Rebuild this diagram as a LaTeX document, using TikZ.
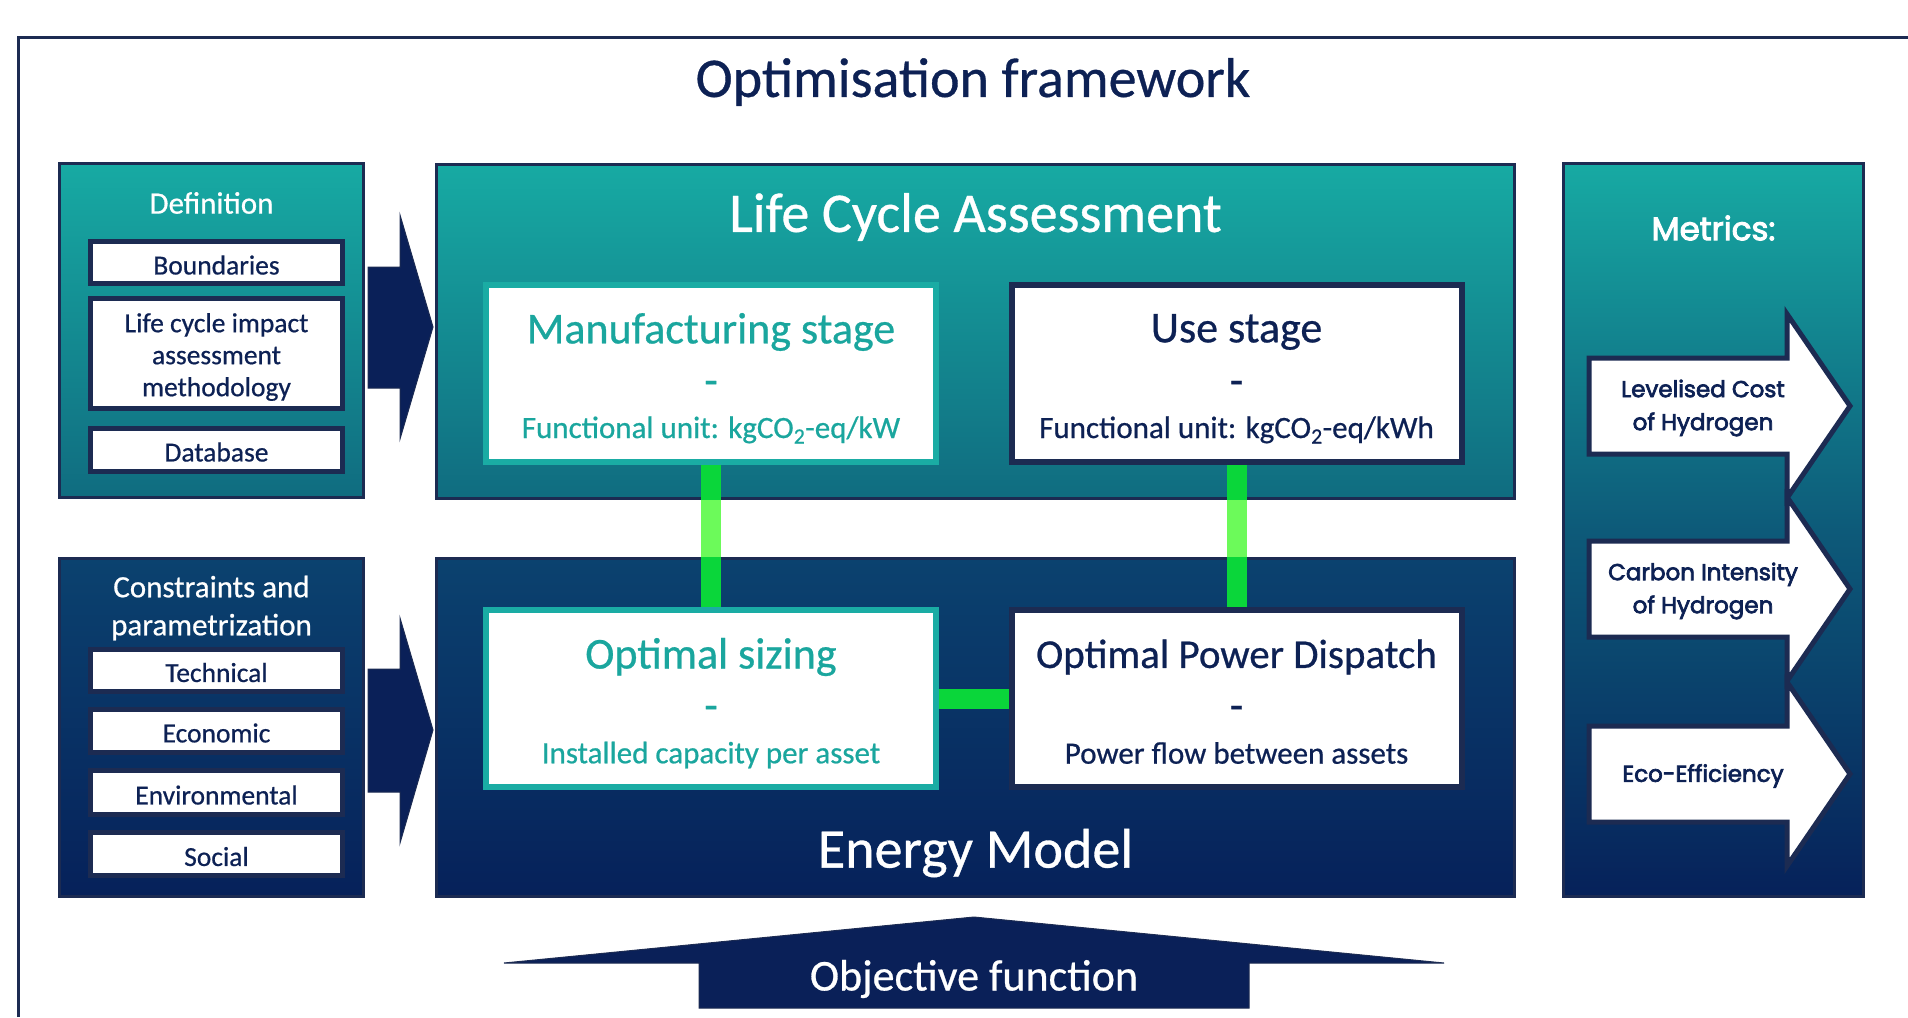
\documentclass[tikz,border=0pt]{standalone}
\usepackage{fontspec}
\setmainfont{Carlito}[FakeBold=0.6]
\newfontfamily\metricfont{Poppins}[FakeBold=3]

\definecolor{navy}{RGB}{13,33,84}
\definecolor{edge}{RGB}{28,43,82}
\definecolor{tealtxt}{RGB}{26,166,158}
\definecolor{tealline}{RGB}{26,172,164}
\definecolor{gA}{RGB}{23,170,163}
\definecolor{gB}{RGB}{16,108,128}
\definecolor{gC}{RGB}{11,66,111}
\definecolor{gD}{RGB}{6,33,90}
\definecolor{gM}{RGB}{13,90,121}
\definecolor{arrowfill}{RGB}{10,32,88}
\definecolor{bardark}{RGB}{10,214,58}
\definecolor{barlight}{RGB}{108,250,90}

\newcommand\fsz[2]{\fontsize{#1}{#2}\selectfont}

\begin{document}
\begin{tikzpicture}[x=1pt,y=-1pt,
  bigbox/.style={draw=edge, line width=3pt, inner sep=0pt, outer sep=0pt},
  tealpanel/.style={bigbox, top color=gA, bottom color=gB},
  bluepanel/.style={bigbox, top color=gC, bottom color=gD},
  item/.style={draw=edge, fill=white, line width=5pt, inner sep=0pt, outer sep=0pt,
    minimum width=252pt, text=navy, align=center, font=\fsz{27.5}{32}},
  itemtxt/.style={text=navy, align=center, inner sep=0pt, font=\fsz{27.5}{32}},
  stagebox/.style={fill=white, line width=6pt, inner sep=0pt, outer sep=0pt,
    minimum width=450pt, minimum height=177pt},
  tealstage/.style={stagebox, draw=tealline},
  navystage/.style={stagebox, draw=edge},
  greenbar/.style={line width=20pt, draw=bardark},
  blockarrow/.style={fill=arrowfill, draw=edge, line width=1pt, line join=miter},
  metricarrow/.style={fill=white, draw=edge, line width=5pt, line join=miter},
  whitetxt/.style={text=white, inner sep=0pt},
  hyphenmark/.style={inner sep=0pt, font=\fsz{44}{48}},
  metrictxt/.style={text=navy, align=center, inner sep=0pt,
    font=\metricfont\fsz{23}{33}},
]
\useasboundingbox (0,0) rectangle (1908,1017);

% outer frame, open towards the right and the bottom
\draw[edge, line width=3pt] (18,1017) -- (18,37) -- (1908,37);
\node[text=navy, font=\fsz{56}{60}] (title) at (973,82) {Optimisation framework};

% main panels
\node[tealpanel, minimum width=304pt, minimum height=334pt] (def) at (211.5,330.5) {};
\node[tealpanel, minimum width=1078pt, minimum height=334pt] (lca) at (975.5,331.5) {};
\node[bluepanel, minimum width=304pt, minimum height=338pt] (cons) at (211.5,727.5) {};
\node[bluepanel, minimum width=1078pt, minimum height=338pt] (energy) at (975.5,727.5) {};
\node[bigbox, top color=gA, bottom color=gD, middle color=gM,
      minimum width=300pt, minimum height=733pt] (metrics) at (1713.5,530) {};

% block arrows feeding the two models
\draw[blockarrow] (368,267) -- (400,267) -- (400,215) -- (433,327) -- (400,439)
  -- (400,388) -- (368,388) -- cycle;
\draw[blockarrow] (368,669) -- (400,669) -- (400,618) -- (433,730) -- (400,843)
  -- (400,792) -- (368,792) -- cycle;

% stage boxes
\node[tealstage] (manu) at (711,373) {};
\node[navystage] (use) at (1236.5,373) {};
\node[tealstage] (opt) at (711,698.5) {};
\node[navystage] (opd) at (1236.5,698.5) {};

% links between the life cycle stages and the energy model
\draw[greenbar] (manu.south) -- (opt.north);
\draw[greenbar] (use.south) -- (opd.north);
\draw[greenbar] (opt.east) -- (opd.west);
\draw[line width=20pt, barlight, shorten <=1.5pt, shorten >=1.5pt]
  (manu.south |- lca.south) -- (manu.south |- energy.north);
\draw[line width=20pt, barlight, shorten <=1.5pt, shorten >=1.5pt]
  (use.south |- lca.south) -- (use.south |- energy.north);
% redraw the boxes over the bar ends
\node[tealstage] at (manu) {};
\node[navystage] at (use) {};
\node[tealstage] at (opt) {};
\node[navystage] at (opd) {};

% definition items
\node[whitetxt, font=\fsz{31}{37}] (deftitle) at (211.5,203) {Definition};
\node[item, minimum height=42pt] (bnd) at (216.5,262.5) {};
\node[itemtxt] (bndt) at (216.5,265) {Boundaries};
\node[item, minimum height=110pt] (lcia) at (216.5,353.5) {};
\node[itemtxt] (lciat) at (216.5,357) {Life cycle impact\\assessment\\methodology};
\node[item, minimum height=43pt] (db) at (216.5,450) {};
\node[itemtxt] (dbt) at (216.5,452) {Database};

% constraint items
\node[whitetxt, align=center, font=\fsz{31}{38}] (constitle) at (211.5,608) {Constraints and\\parametrization};
\node[item, minimum height=42pt] (tech) at (216.5,670.5) {};
\node[itemtxt] (techt) at (216.5,672.5) {Technical};
\node[item, minimum height=43pt] (econ) at (216.5,731) {};
\node[itemtxt] (econt) at (216.5,733) {Economic};
\node[item, minimum height=44pt] (env) at (216.5,792.5) {};
\node[itemtxt] (envt) at (216.5,795) {Environmental};
\node[item, minimum height=43pt] (soc) at (216.5,854) {};
\node[itemtxt] (soct) at (216.5,856.5) {Social};

% life cycle assessment
\node[whitetxt, font=\fsz{56}{60}] (lcatitle) at (975.5,217) {Life Cycle Assessment};
\node[text=tealtxt, font=\fsz{44}{48}] (manuA) at (711,332) {Manufacturing stage};
\node[text=tealtxt, hyphenmark] (manuB) at (711,388) {-};
\node[text=tealtxt, font=\fsz{31}{36}] (manuC) at (711,430) {Functional unit: kgCO\textsubscript{2}-eq/kW};
\node[text=navy, font=\fsz{44}{48}] (useA) at (1236.5,332) {Use stage};
\node[text=navy, hyphenmark] (useB) at (1236.5,388) {-};
\node[text=navy, font=\fsz{31}{36}] (useC) at (1236.5,430) {Functional unit: kgCO\textsubscript{2}-eq/kWh};

% energy model
\node[text=tealtxt, font=\fsz{44}{48}] (optA) at (711,657) {Optimal sizing};
\node[text=tealtxt, hyphenmark] (optB) at (711,713) {-};
\node[text=tealtxt, font=\fsz{31}{36}] (optC) at (711,755) {Installed capacity per asset};
\node[text=navy, font=\fsz{41}{46}] (opdA) at (1236.5,657) {Optimal Power Dispatch};
\node[text=navy, hyphenmark] (opdB) at (1236.5,713) {-};
\node[text=navy, font=\fsz{31}{36}] (opdC) at (1236.5,753) {Power flow between assets};
\node[whitetxt, font=\fsz{56}{60}] (emtitle) at (975.5,853) {Energy Model};

% metrics
\node[whitetxt, font=\metricfont\fsz{32.5}{36}] (mtitle) at (1713.5,228) {Metrics:};
\foreach \yc in {406, 589, 774}{
  \draw[metricarrow] (1589,\yc-48) -- (1787,\yc-48) -- (1787,\yc-92) -- (1850,\yc)
    -- (1787,\yc+92) -- (1787,\yc+48) -- (1589,\yc+48) -- cycle;
}
\node[metrictxt] (lcoh) at (1703,408) {Levelised Cost\\of Hydrogen};
\node[metrictxt] (cih) at (1703,591) {Carbon Intensity\\of Hydrogen};
\node[metrictxt] (eco) at (1703,776) {Eco-Efficiency};

% objective function
\draw[blockarrow] (699,1008) -- (699,963) -- (504,963) -- (974,917) -- (1444,963)
  -- (1249,963) -- (1249,1008) -- cycle;
\node[whitetxt, font=\fsz{44}{48}] (objf) at (974,979) {Objective function};
\end{tikzpicture}
\end{document}
